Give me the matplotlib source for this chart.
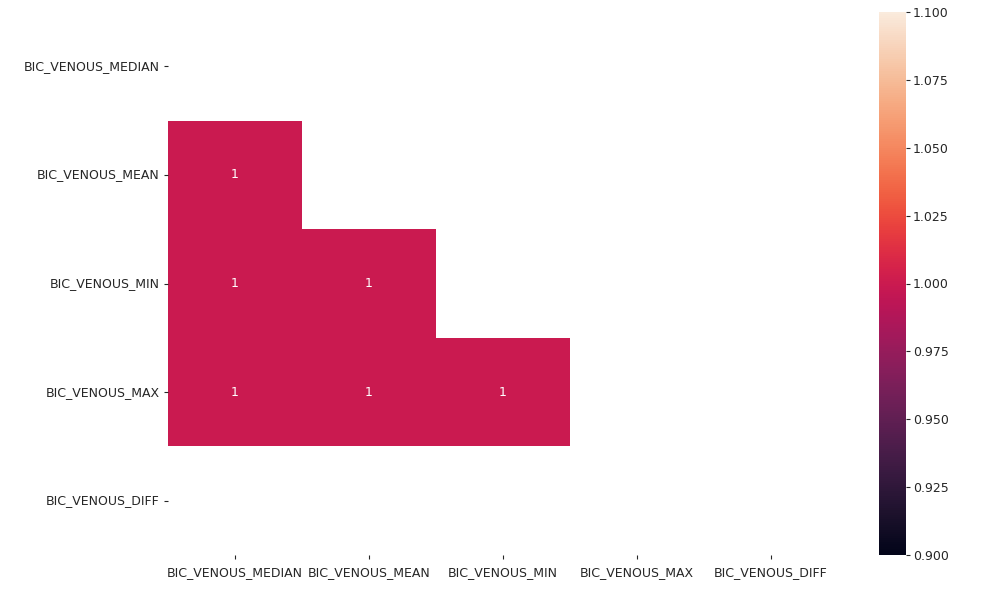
import numpy as np
import matplotlib
matplotlib.use("Agg")
import matplotlib.pyplot as plt
import seaborn as sns

labels = ["BIC_VENOUS_MEDIAN", "BIC_VENOUS_MEAN", "BIC_VENOUS_MIN", "BIC_VENOUS_MAX", "BIC_VENOUS_DIFF"]
nan = np.nan
corr = np.array([
    [1.0, 1.0, 1.0, 1.0, nan],
    [1.0, 1.0, 1.0, 1.0, nan],
    [1.0, 1.0, 1.0, 1.0, nan],
    [1.0, 1.0, 1.0, 1.0, nan],
    [nan, nan, nan, nan, nan],
])
mask = np.triu(np.ones_like(corr, dtype=bool))
cbar_ticks = [0.9, 0.925, 0.95, 0.975, 1.0, 1.025, 1.05, 1.075, 1.1]

W, H = 981, 595
fig = plt.figure(figsize=(W / 100, H / 100), dpi=100)
ax = fig.add_axes([168 / W, 1 - 555 / H, (838 - 168) / W, (555 - 12) / H])
cax = fig.add_axes([879 / W, 1 - 555 / H, 27 / W, (555 - 12) / H])

sns.heatmap(corr, mask=mask, annot=True, cmap="rocket", vmin=0.9, vmax=1.1,
            xticklabels=labels, yticklabels=labels, ax=ax, cbar_ax=cax,
            annot_kws={"fontsize": 9})
ax.tick_params(axis="both", labelsize=9, colors="#262626", labelcolor="#262626",
               length=3, pad=3)
ax.tick_params(axis="x", pad=5)
plt.setp(ax.get_xticklabels(), rotation=0)
plt.setp(ax.get_yticklabels(), rotation=0)
cax.tick_params(labelsize=9, colors="#262626", length=3, pad=2)
cax.set_yticks(cbar_ticks)
cax.set_yticklabels([f"{t:.3f}" for t in cbar_ticks])

fig.savefig("out.png", dpi=100)
